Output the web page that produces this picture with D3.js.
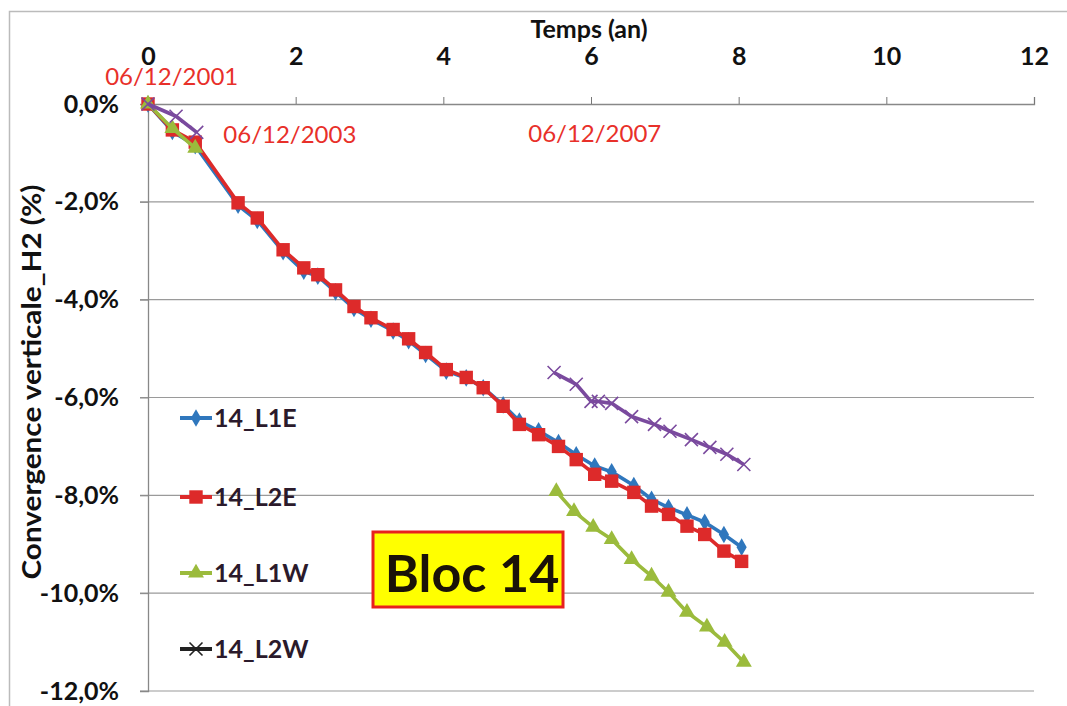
<!DOCTYPE html>
<html><head><meta charset="utf-8">
<script src="https://cdn.jsdelivr.net/npm/d3@7"></script>
<style>body{margin:0;background:#fff}svg{display:block}text{font-family:Lato,"Open Sans",sans-serif}</style>
</head><body>
<svg id="c" width="1067" height="706"></svg>
<script>
// Data
const xTicks = [0, 2, 4, 6, 8, 10, 12];
const yTicks = [0, -2, -4, -6, -8, -10, -12];
const tEast = [0, 0.33, 0.64, 1.22, 1.48, 1.83, 2.11, 2.30, 2.54, 2.79, 3.02, 3.32, 3.53, 3.76, 4.04, 4.31, 4.54, 4.81, 5.03, 5.29, 5.56, 5.80, 6.05, 6.28, 6.58, 6.82, 7.05, 7.30, 7.54, 7.80, 8.04];
const L1E = [0, -0.56, -0.85, -2.07, -2.38, -3.02, -3.42, -3.52, -3.84, -4.18, -4.40, -4.64, -4.84, -5.12, -5.46, -5.60, -5.80, -6.15, -6.48, -6.68, -6.92, -7.17, -7.40, -7.52, -7.80, -8.08, -8.25, -8.40, -8.55, -8.80, -9.06];
const L2E = [0, -0.53, -0.78, -2.02, -2.33, -2.98, -3.35, -3.49, -3.80, -4.14, -4.37, -4.61, -4.80, -5.08, -5.43, -5.59, -5.80, -6.18, -6.55, -6.76, -7.00, -7.27, -7.57, -7.71, -7.94, -8.22, -8.39, -8.63, -8.80, -9.14, -9.35];
const tL1W = [0, 0.33, 0.64, null, 5.53, 5.77, 6.03, 6.28, 6.55, 6.82, 7.05, 7.30, 7.57, 7.81, 8.07];
const L1W = [0, -0.50, -0.90, null, -7.92, -8.33, -8.65, -8.90, -9.31, -9.65, -9.98, -10.39, -10.69, -11.00, -11.41];
const tL2W = [0, 0.38, 0.66, null, 5.50, 5.80, 6.00, 6.10, 6.28, 6.55, 6.86, 7.07, 7.36, 7.61, 7.84, 8.07];
const L2W = [0, -0.25, -0.58, null, -5.49, -5.73, -6.08, -6.08, -6.12, -6.39, -6.55, -6.69, -6.86, -7.02, -7.16, -7.37];
const seriesNames = ["14_L1E", "14_L2E", "14_L1W", "14_L2W"];
const seriesColors = ["#2f77bd", "#dd2a2a", "#9bbb3c", "#7a4a9e"];
const legendColors = ["#2f77bd", "#dd2a2a", "#9bbb3c", "#222"];
const annotations = [["06/12/2001", -0.58, 0.38], ["06/12/2003", 1.02, -0.80], ["06/12/2007", 5.15, -0.78]];

const svg = d3.select("#c");
const x = d3.scaleLinear().domain([0, 12]).range([148, 1034]);
const y = d3.scaleLinear().domain([-12, 0]).range([691, 104]);

// outer frame
svg.append("rect").attr("x", 9.5).attr("y", 11.5).attr("width", 1080).attr("height", 720)
  .attr("fill", "none").attr("stroke", "#bbb").attr("stroke-width", 1.5);

// gridlines
svg.append("g").selectAll("line").data(yTicks.filter(v => v !== 0)).join("line")
  .attr("x1", 140).attr("x2", x(12)).attr("y1", d => y(d)).attr("y2", d => y(d))
  .attr("stroke", "#9a9a9a").attr("stroke-width", 1.2);

// top axis
const xa = svg.append("g").attr("transform", `translate(0,${y(0)})`)
  .call(d3.axisTop(x).tickValues(xTicks).tickSize(7).tickPadding(32).tickFormat(d3.format("d")));
xa.select(".domain").attr("stroke", "#888").attr("stroke-width", 1.3);
xa.selectAll(".tick line").attr("stroke", "#777");
xa.selectAll("text").attr("font-size", 25).attr("font-weight", "bold").attr("fill", "#111");

// left axis
const ya = svg.append("g").attr("transform", `translate(${x(0)},0)`)
  .call(d3.axisLeft(y).tickValues(yTicks).tickSize(8).tickPadding(21)
    .tickFormat(d => d3.format(".1f")(d).replace(".", ",").replace("−", "-") + "%"));
ya.select(".domain").attr("stroke", "#888").attr("stroke-width", 1.3);
ya.selectAll(".tick line").attr("stroke", "#888");
ya.selectAll("text").attr("font-size", 25).attr("font-weight", "bold").attr("fill", "#111");

// axis titles
svg.append("text").attr("x", 589).attr("y", 38).attr("text-anchor", "middle")
  .attr("font-size", 25).attr("font-weight", "bold").attr("fill", "#111").text("Temps (an)");
svg.append("text").attr("transform", "translate(41,382) rotate(-90)").attr("text-anchor", "middle")
  .attr("font-size", 27).attr("font-weight", "bold").attr("fill", "#111")
  .attr("textLength", 395).attr("lengthAdjust", "spacingAndGlyphs").text("Convergence verticale_H2 (%)");

// series
const mk = (ts, vs) => ts.map((t, i) => ({t, v: vs[i]}));
const data = [mk(tEast, L1E), mk(tEast, L2E), mk(tL1W, L1W), mk(tL2W, L2W)];
const line = d3.line().defined(d => d.v != null).x(d => x(d.t)).y(d => y(d.v));
const symbols = [d3.symbolDiamond, d3.symbolSquare, d3.symbolTriangle, null];
const symSizes = [90, 180, 110, 0];

function drawMarker(g, i, cx, cy, legend) {
  if (i === 3) {
    const s = 6.5;
    g.append("path").attr("d", `M${cx - s},${cy - s}L${cx + s},${cy + s}M${cx - s},${cy + s}L${cx + s},${cy - s}`)
      .attr("stroke", legend ? "#222" : seriesColors[3]).attr("stroke-width", 1.6);
  } else {
    g.append("path").attr("d", d3.symbol(symbols[i], symSizes[i])())
      .attr("transform", `translate(${cx},${cy})`).attr("fill", legend ? legendColors[i] : seriesColors[i]);
  }
}

data.forEach((ser, i) => {
  const g = svg.append("g");
  g.append("path").datum(ser).attr("d", line).attr("fill", "none")
    .attr("stroke", seriesColors[i]).attr("stroke-width", 3.6).attr("stroke-linejoin", "round");
  ser.filter(d => d.v != null).forEach(d => drawMarker(g, i, x(d.t), y(d.v), false));
});

// legend
const legY = [418, 497, 573, 649];
seriesNames.forEach((n, i) => {
  const g = svg.append("g");
  g.append("line").attr("x1", 180).attr("x2", 212).attr("y1", legY[i]).attr("y2", legY[i])
    .attr("stroke", legendColors[i]).attr("stroke-width", 4);
  drawMarker(g, i, 196, legY[i], true);
  g.append("text").attr("x", 214).attr("y", legY[i] + 9).attr("font-size", 25).attr("font-weight", "bold")
    .attr("fill", "#2b1a2b").text(n);
});

// annotations
annotations.forEach(([s, t, v]) => {
  svg.append("text").attr("x", x(t)).attr("y", y(v)).attr("text-anchor", "start")
    .attr("font-size", 24).attr("fill", "#e8302a").text(s);
});

// Bloc 14 box
svg.append("rect").attr("x", 373).attr("y", 532).attr("width", 190).attr("height", 75)
  .attr("fill", "#ffff00").attr("stroke", "#e8201e").attr("stroke-width", 3);
svg.append("text").attr("x", 472).attr("y", 592).attr("text-anchor", "middle")
  .attr("font-size", 52).attr("font-weight", "bold").attr("fill", "#1a1208").text("Bloc 14");
</script>
</body></html>
